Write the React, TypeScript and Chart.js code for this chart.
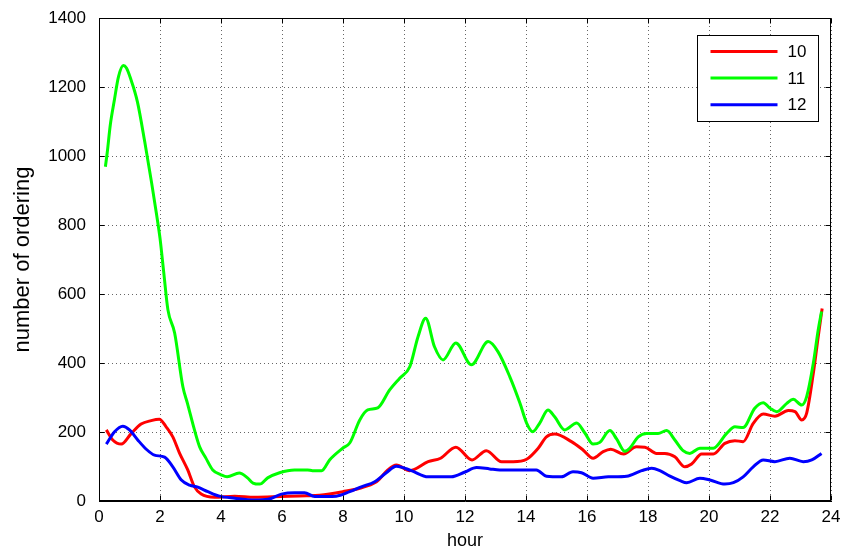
import React, { useEffect, useRef } from "react";
import { Chart, registerables } from "chart.js";

Chart.register(...registerables);

const seriesLabels = ["10", "11", "12"];
const seriesColors = ["#ff0000", "#00ff00", "#0000ff"];

const hours10 = [0.24, 0.45, 0.73, 1.06, 1.38, 1.71, 1.98, 2.2, 2.42, 2.64, 2.91, 3.13, 3.35, 3.79, 4.45, 5.1, 5.98, 6.8, 7.23, 7.99, 8.55, 9.1, 9.2, 9.47, 9.75, 10.19, 10.79, 11.2, 11.7, 12.23, 12.7, 13.2, 13.58, 14.02, 14.4, 14.67, 14.94, 15.49, 15.87, 16.2, 16.53, 16.78, 17.2, 17.62, 17.9, 18.28, 18.55, 18.88, 19.21, 19.43, 19.76, 20.14, 20.52, 20.85, 21.12, 21.45, 21.78, 22.16, 22.6, 22.82, 23.04, 23.2, 23.42, 23.58, 23.71];
const orders10 = [206, 177, 165, 196, 223, 233, 237, 215, 186, 139, 90, 41, 20, 11, 14, 11, 13, 15, 17, 27, 37, 56, 64, 90, 104, 88, 114, 124, 156, 119, 146, 114, 114, 121, 153, 186, 194, 172, 148, 124, 143, 150, 136, 157, 156, 138, 138, 128, 99, 107, 136, 136, 167, 175, 172, 225, 252, 246, 262, 259, 235, 254, 370, 476, 558];

const hours11 = [0.21, 0.27, 0.37, 0.5, 0.64, 0.8, 0.9, 1.03, 1.26, 1.5, 1.72, 1.89, 2.0, 2.12, 2.26, 2.48, 2.75, 2.9, 3.13, 3.3, 3.5, 3.73, 4.0, 4.2, 4.6, 4.87, 5.05, 5.27, 5.53, 5.92, 6.41, 6.84, 7.0, 7.3, 7.56, 7.99, 8.22, 8.55, 8.81, 9.14, 9.53, 9.86, 10.19, 10.46, 10.71, 11.0, 11.28, 11.7, 12.21, 12.76, 13.08, 13.47, 13.8, 14.02, 14.22, 14.45, 14.72, 14.94, 15.27, 15.66, 15.93, 16.2, 16.42, 16.75, 16.97, 17.24, 17.4, 17.68, 17.95, 18.33, 18.61, 18.88, 19.15, 19.37, 19.7, 20.14, 20.58, 20.85, 21.12, 21.5, 21.78, 22.0, 22.22, 22.55, 22.76, 23.04, 23.2, 23.42, 23.58, 23.69];
const orders11 = [969, 1010, 1090, 1160, 1230, 1262, 1255, 1226, 1157, 1041, 925, 829, 762, 665, 554, 487, 331, 283, 206, 157, 125, 90, 76, 70, 81, 67, 52, 49, 67, 82, 90, 90, 88, 88, 119, 153, 168, 235, 264, 270, 322, 356, 389, 476, 530, 447, 409, 458, 395, 462, 433, 360, 284, 226, 201, 226, 264, 244, 206, 226, 197, 165, 170, 204, 180, 144, 153, 186, 196, 196, 204, 177, 146, 138, 153, 153, 196, 215, 213, 269, 285, 269, 259, 283, 295, 278, 302, 399, 496, 549];

const hours12 = [0.24, 0.51, 0.78, 1.0, 1.27, 1.55, 1.82, 2.15, 2.42, 2.7, 2.97, 3.24, 3.57, 3.95, 4.45, 5.1, 5.54, 5.98, 6.41, 6.74, 7.07, 7.78, 8.22, 8.6, 9.04, 9.42, 9.75, 10.24, 10.79, 11.55, 12.0, 12.38, 12.81, 13.14, 14.34, 14.67, 15.16, 15.54, 15.82, 16.2, 16.7, 17.3, 17.79, 18.12, 18.39, 18.72, 19.05, 19.27, 19.7, 20.03, 20.52, 20.8, 21.12, 21.45, 21.78, 22.16, 22.65, 23.09, 23.37, 23.69];
const orders12 = [165, 201, 217, 206, 177, 150, 133, 127, 99, 61, 46, 40, 27, 14, 8, 3, 5, 20, 24, 24, 13, 14, 27, 41, 56, 82, 101, 88, 70, 70, 84, 97, 93, 90, 90, 72, 70, 85, 82, 66, 70, 72, 88, 95, 88, 72, 59, 53, 66, 61, 49, 53, 70, 99, 119, 114, 124, 114, 119, 138];

const xMin = 0;
const xMax = 24;
const xStep = 2;
const yMin = 0;
const yMax = 1400;
const yStep = 200;
const xTitle = "hour";
const yTitle = "number of ordering";

const FONT = "'Liberation Sans', Arial, sans-serif";

const boxPlugin = {
  id: "matlabBox",
  afterDraw(chart: any) {
    const { ctx, chartArea: a, scales } = chart;
    const L = Math.round(a.left) + 0.5;
    const R = Math.round(a.right) - 0.5;
    const T = Math.round(a.top) + 0.5;
    const B = Math.round(a.bottom) - 0.5;
    ctx.save();
    ctx.strokeStyle = "#000";
    ctx.lineWidth = 1;
    ctx.setLineDash([]);
    const tl = 5;
    ctx.beginPath();
    scales.x.ticks.forEach((t: any) => {
      const px = Math.round(scales.x.getPixelForValue(t.value)) + 0.5;
      ctx.moveTo(px, B);
      ctx.lineTo(px, B - tl);
      ctx.moveTo(px, T);
      ctx.lineTo(px, T + tl);
    });
    scales.y.ticks.forEach((t: any) => {
      const py = Math.round(scales.y.getPixelForValue(t.value)) + 0.5;
      ctx.moveTo(L, py);
      ctx.lineTo(L + tl, py);
      ctx.moveTo(R, py);
      ctx.lineTo(R - tl, py);
    });
    ctx.stroke();
    ctx.strokeRect(L, T, R - L, B - T);

    // legend
    const bw = 121;
    const bh = 86;
    const bx = Math.round(a.right - 13 - bw) + 0.5;
    const by = Math.round(a.top + 17) + 0.5;
    ctx.fillStyle = "#fff";
    ctx.fillRect(bx, by, bw, bh);
    ctx.strokeStyle = "#000";
    ctx.strokeRect(bx, by, bw, bh);
    ctx.font = `17px ${FONT}`;
    ctx.textBaseline = "middle";
    ctx.textAlign = "left";
    seriesLabels.forEach((lab, i) => {
      const yy = by + 16 + i * 26.6;
      ctx.strokeStyle = seriesColors[i];
      ctx.lineWidth = 3;
      ctx.beginPath();
      ctx.moveTo(bx + 13, yy);
      ctx.lineTo(bx + 80, yy);
      ctx.stroke();
      ctx.fillStyle = "#000";
      ctx.fillText(lab, bx + 90, yy + 1);
    });
    ctx.restore();
  },
};

export default function App() {
  const ref = useRef<HTMLCanvasElement>(null);
  useEffect(() => {
    if (!ref.current) return;
    const hoursList = [hours10, hours11, hours12];
    const ordersList = [orders10, orders11, orders12];
    const chart = new Chart(ref.current, {
      type: "line",
      data: {
        datasets: seriesLabels.map((lab, i) => ({
          label: lab,
          data: hoursList[i].map((h, j) => ({ x: h, y: ordersList[i][j] })),
          borderColor: seriesColors[i],
          backgroundColor: seriesColors[i],
          borderWidth: 3,
          pointRadius: 0,
          fill: false,
          cubicInterpolationMode: "monotone" as const,
          order: 2 - i,
        })),
      },
      options: {
        animation: false,
        responsive: true,
        maintainAspectRatio: false,
        layout: { padding: { left: 0, top: 18, right: 18, bottom: 0 } },
        plugins: { legend: { display: false }, tooltip: { enabled: false } },
        scales: {
          x: {
            type: "linear",
            min: xMin,
            max: xMax,
            ticks: { stepSize: xStep, color: "#000", font: { family: FONT, size: 17 }, padding: 0, maxRotation: 0, callback: (v: any) => String(v) },
            grid: { color: "rgba(0,0,0,0.6)", drawTicks: true, tickLength: 6, tickColor: "rgba(0,0,0,0)", lineWidth: 1 },
            border: { display: true, color: "#000", width: 1, dash: [1, 3] },
            title: { display: true, text: xTitle, color: "#000", font: { family: FONT, size: 18 }, padding: { top: 0, bottom: -2 } },
            afterFit: (s: any) => { s.height = 49; },
          },
          y: {
            type: "linear",
            min: yMin,
            max: yMax,
            ticks: { stepSize: yStep, color: "#000", font: { family: FONT, size: 17 }, padding: 0, callback: (v: any) => String(v) },
            grid: { color: "rgba(0,0,0,0.6)", drawTicks: true, tickLength: 13, tickColor: "rgba(0,0,0,0)", lineWidth: 1 },
            border: { display: true, color: "#000", width: 1, dash: [1, 3] },
            title: { display: true, text: yTitle, color: "#000", font: { family: FONT, size: 22 }, padding: { top: 10, bottom: 0 } },
            afterFit: (s: any) => { s.width = 99; },
          },
        },
      },
      plugins: [boxPlugin],
    });
    return () => chart.destroy();
  }, []);
  return (
    <div style={{ position: "absolute", left: 0, top: 0, width: 849, height: 550, background: "#fff" }}>
      <canvas ref={ref} />
    </div>
  );
}
